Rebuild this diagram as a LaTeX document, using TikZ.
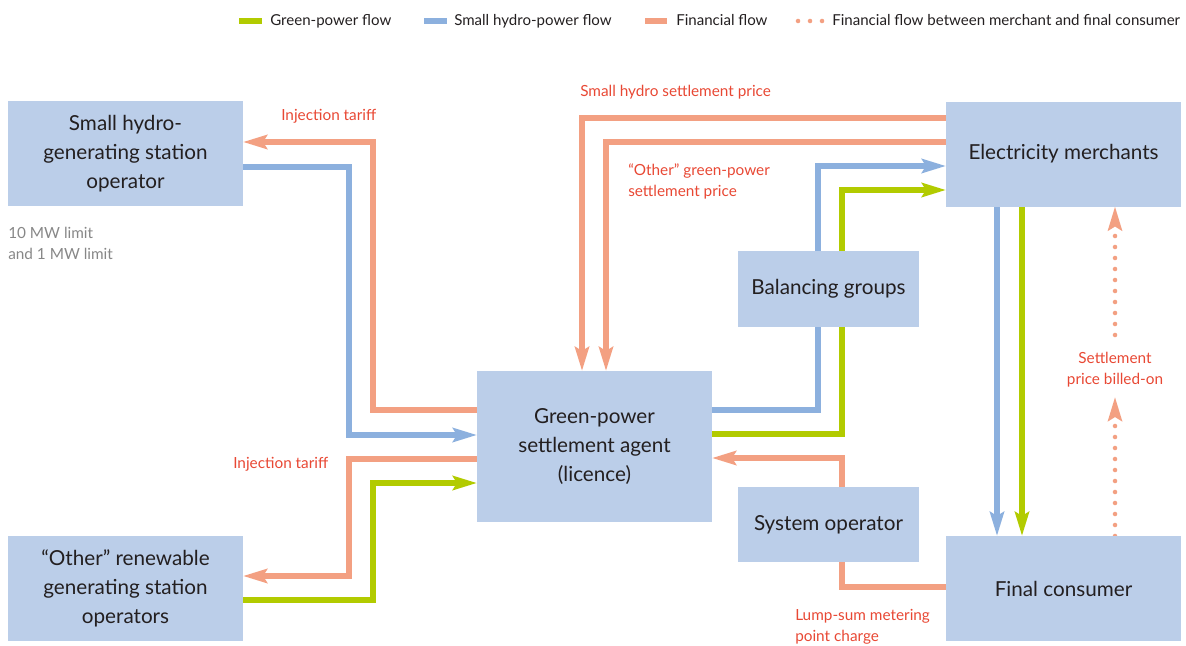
\documentclass[tikz,border=0pt]{standalone}
\usepackage{fontspec}
\setmainfont{Lato}
\usetikzlibrary{arrows.meta}
\definecolor{boxfill}{RGB}{187,206,233}
\definecolor{finc}{RGB}{243,160,130}
\definecolor{hydc}{RGB}{140,176,222}
\definecolor{grnc}{RGB}{178,203,0}
\definecolor{labc}{RGB}{232,72,52}
\definecolor{txtc}{RGB}{35,31,32}
\definecolor{greyc}{RGB}{135,135,135}
\pgfdeclarelayer{bg}
\pgfsetlayers{bg,main}
\tikzset{
  box/.style={fill=boxfill, draw=none, inner sep=0pt, outer sep=0pt, text=txtc,
    align=center, font=\fontsize{15.5}{22}\selectfont},
  flow/.style={line width=4pt, -{Stealth[length=18pt,width=10.5pt,inset=3pt]}},
  fin/.style={flow, draw=finc},
  hyd/.style={flow, draw=hydc},
  grn/.style={flow, draw=grnc},
  dotfin/.style={draw=finc, line width=3.4pt, line cap=round, dash pattern=on 0pt off 8.25pt,
    -{Stealth[length=18pt,width=10.5pt,inset=3pt]}},
  lab/.style={text=labc, inner sep=0pt, font=\fontsize{11.5}{15.75}\selectfont},
  leg/.style={text=txtc, inner sep=0pt, font=\fontsize{11.3}{13}\selectfont, anchor=base west},
  swatch/.style={line width=4pt},
}
\begin{document}
\begin{tikzpicture}[x=0.75pt,y=-0.75pt]
\useasboundingbox (0,0) rectangle (1186,646);

% boxes
\node[box, minimum width=176.25pt, minimum height=78.75pt] (hydro) at (125.5,153.5)
  {Small hydro-\\generating station\\operator};
\node[box, minimum width=176.25pt, minimum height=78.75pt] (merch) at (1063.5,154)
  {Electricity merchants};
\node[box, minimum width=135.75pt, minimum height=57pt] (bal) at (828.5,289)
  {Balancing groups};
\node[box, minimum width=176.25pt, minimum height=113.25pt] (agent) at (594.5,446.5)
  {Green-power\\settlement agent\\(licence)};
\node[box, minimum width=135.75pt, minimum height=56.25pt] (sysop) at (828.5,524.5)
  {System operator};
\node[box, minimum width=176.25pt, minimum height=78.75pt] (final) at (1063.5,588.5)
  {Final consumer};
\node[box, minimum width=176.25pt, minimum height=78.75pt] (other) at (125.5,588.5)
  {“Other” renewable\\generating station\\operators};

% connectors
\begin{pgfonlayer}{bg}
\draw[fin] (agent.west |- 0,410) -| (373,142) -- (hydro.east |- 0,142);
\draw[hyd] (hydro.east |- 0,167) -| (349,435) -- (agent.west |- 0,435);
\draw[fin] (agent.west |- 0,459) -| (349,576) -- (other.east |- 0,576);
\draw[grn] (other.east |- 0,600) -| (373,483) -- (agent.west |- 0,483);
\draw[fin] (merch.west |- 0,118) -| (agent.north -| 582,0);
\draw[fin] (merch.west |- 0,142) -| (agent.north -| 606,0);
\draw[hyd] (agent.east |- 0,410) -| (818,166) -- (merch.west |- 0,166);
\draw[grn] (agent.east |- 0,434) -| (842,190) -- (merch.west |- 0,190);
\draw[hyd] (merch.south -| 997,0) -- (final.north -| 997,0);
\draw[grn] (merch.south -| 1022,0) -- (final.north -| 1022,0);
\draw[fin] (final.west |- 0,587) -| (842,458) -- (agent.east |- 0,458);
\coordinate (dotlow) at (1115,397);
\coordinate (dothigh) at (1115,335);
\draw[dotfin] (final.north -| 1115,0) -- (dotlow);
\draw[dotfin] (dothigh) -- (merch.south -| 1115,0);
\end{pgfonlayer}

% labels
\node[lab, anchor=base west] (l1) at (281,120) {Injection tariff};
\node[lab, anchor=base west] (l2) at (580,96) {Small hydro settlement price};
\node[lab, anchor=west, align=left] (l3) at (628,181) {“Other” green-power\\settlement price};
\node[lab, anchor=base west] (l4) at (233,468) {Injection tariff};
\node[lab, anchor=west, align=left] (l5) at (795,627) {Lump-sum metering\\point charge};
\node[lab, align=center] (l6) at (1115,370) {Settlement\\price billed-on};
\node[lab, text=greyc, anchor=west, align=left] (l7) at (8,243) {10 MW limit\\and 1 MW limit};

% legend
\draw[swatch, draw=grnc] (239,21) -- (262,21);
\node[leg] (g1) at (270,26) {Green-power flow};
\draw[swatch, draw=hydc] (424,21) -- (447,21);
\node[leg] (g2) at (454,26) {Small hydro-power flow};
\draw[swatch, draw=finc] (645,21) -- (667,21);
\node[leg] (g3) at (676,26) {Financial flow};
\foreach \xx in {798,810,822} \fill[finc] (\xx,21) circle (1.7pt);
\node[leg] (g4) at (832,26) {Financial flow between merchant and final consumer};
\end{tikzpicture}
\end{document}
